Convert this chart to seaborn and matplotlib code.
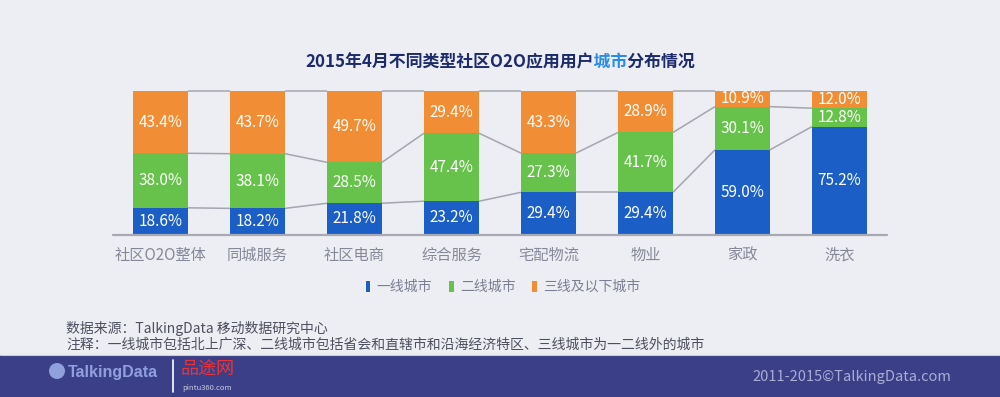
import matplotlib
matplotlib.use("Agg")
import matplotlib.pyplot as plt
from matplotlib.patches import Patch, Rectangle, Ellipse
from matplotlib.lines import Line2D
from matplotlib.transforms import Bbox, TransformedBbox
import numpy as np
import pandas as pd
import seaborn as sns

# ---------------- data ----------------
categories = ["社区O2O整体", "同城服务", "社区电商", "综合服务", "宅配物流", "物业", "家政", "洗衣"]
tier1 = [18.6, 18.2, 21.8, 23.2, 29.4, 29.4, 59.0, 75.2]
tier2 = [38.0, 38.1, 28.5, 47.4, 27.3, 41.7, 30.1, 12.8]
tier3 = [43.4, 43.7, 49.7, 29.4, 43.3, 28.9, 10.9, 12.0]
series_names = ["一线城市", "二线城市", "三线及以下城市"]

title_pre = "2015年4月不同类型社区O2O应用用户"
title_hl = "城市"
title_post = "分布情况"
note1 = "数据来源：TalkingData 移动数据研究中心"
note2 = "注释：一线城市包括北上广深、二线城市包括省会和直辖市和沿海经济特区、三线城市为一二线外的城市"
copyright_txt = "2011-2015©TalkingData.com"

# ---------------- style ----------------
sns.set_style("white")
plt.rcParams["font.family"] = ["Noto Sans CJK SC", "DejaVu Sans"]

bg = "#EDEEF3"
c_blue = "#1B5FC6"
c_green = "#66C24A"
c_orange = "#F08D35"
c_line = "#A4A5AF"

fig = plt.figure(figsize=(10, 3.97), dpi=100)
fig.patch.set_facecolor(bg)
ax = fig.add_axes([0.113, 0.4093, 0.774, 0.3615])
ax.set_facecolor(bg)

df = pd.DataFrame({"cat": categories, "t1": tier1, "t2": tier2, "t3": tier3})
df["c1"] = df["t1"]
df["c2"] = df["t1"] + df["t2"]
df["c3"] = df["t1"] + df["t2"] + df["t3"]

w = 0.567
for col, colr in [("c3", c_orange), ("c2", c_green), ("c1", c_blue)]:
    sns.barplot(data=df, x="cat", y=col, color=colr, saturation=1, width=w,
                linewidth=0, ax=ax, zorder=2, errorbar=None)

# connectors
n = len(categories)
for col in ["c1", "c2", "c3"]:
    lev = df[col].values
    for i in range(n - 1):
        ax.plot([i + w / 2, i + 1 - w / 2], [lev[i], lev[i + 1]], color=c_line,
                lw=1.1, zorder=1, solid_capstyle="butt", clip_on=False)

# value labels
for i in range(n):
    bottoms = [0, df["c1"][i], df["c2"][i]]
    vals = [df["t1"][i], df["t2"][i], df["t3"][i]]
    for b, v in zip(bottoms, vals):
        ax.text(i, b + v / 2, f"{v:.1f}%", ha="center", va="center",
                color="white", fontsize=11, zorder=5)

ax.axhline(0, color="#A8A9B3", lw=1.6, zorder=3, clip_on=False)
ax.set_xlim(-0.49, n - 1 + 0.49)
ax.set_ylim(0, 100)
sns.despine(ax=ax, left=True, bottom=True, top=True, right=True)
ax.set_yticks([])
ax.set_xlabel("")
ax.set_ylabel("")
ax.tick_params(axis="x", length=0, pad=9, labelsize=11, labelcolor="#868899")

# legend
handles = [Patch(facecolor=c, edgecolor="none") for c in (c_blue, c_green, c_orange)]
fig.legend(handles, series_names, loc="center", bbox_to_anchor=(0.503, 0.277), ncol=3,
           frameon=False, handlelength=0.35, handleheight=0.85, handletextpad=0.45,
           columnspacing=1.2, fontsize=10, labelcolor="#7B7F94")

# title (mixed colours): one string, coloured by clipping
fig.canvas.draw()
renderer = fig.canvas.get_renderer()
ty = (397 - 62) / 397
tkw = dict(fontsize=12.2, fontweight="bold", va="center")


def text_w(s):
    t = fig.text(0, 0, s, **tkw)
    wd = t.get_window_extent(renderer).width
    t.remove()
    return wd


full = title_pre + title_hl + title_post
w_full = text_w(full)
w_pre = text_w(title_pre)
w_hl = text_w(title_hl)
x0 = 500 - w_full / 2
L = x0 + w_pre
R = x0 + w_pre + w_hl
for (a, b), colr in [((0, L), "#1C2B6C"), ((L, R), "#2A8BE8"), ((R, 1000), "#1C2B6C")]:
    t = fig.text(x0 / 1000, ty, full, color=colr, **tkw)
    t.set_clip_box(TransformedBbox(Bbox.from_extents(a / 1000, 0, b / 1000, 1), fig.transFigure))
    t.set_clip_on(True)

# notes
fig.text(0.066, (397 - 328) / 397, note1, fontsize=10, color="#4E5060", va="center")
fig.text(0.066, (397 - 345) / 397, note2, fontsize=10, color="#4E5060", va="center")

# footer band
fig.patches.append(Rectangle((0, 0), 1, 42 / 397, transform=fig.transFigure,
                             facecolor="#3A3F87", edgecolor="none", zorder=0))
fig.add_artist(Line2D([0, 1], [42 / 397, 42 / 397], transform=fig.transFigure,
                      color="#C9CBDA", lw=0.8))
fig.patches.append(Ellipse((57 / 1000, (397 - 371) / 397), 16 / 1000, 16 / 397,
                           transform=fig.transFigure, facecolor="#8FA0DD", edgecolor="none"))
fig.text(0.068, (397 - 373) / 397, "TalkingData", fontsize=11.5, fontweight="bold",
         color="#8FA0DD", va="center", family=["Liberation Sans", "DejaVu Sans"])
fig.add_artist(Line2D([0.173, 0.173], [(397 - 360) / 397, (397 - 392) / 397],
                      transform=fig.transFigure, color="white", lw=1.2))
fig.text(0.181, (397 - 370) / 397, "品途网", fontsize=13, color="#E8343C", va="center")
fig.text(0.182, (397 - 388) / 397, "pintu360.com", fontsize=5.5, color="#C8CAE0", va="center")
fig.text(0.951, (397 - 377) / 397, copyright_txt, fontsize=10.5, color="#A9ADD5",
         va="center", ha="right")

fig.savefig("out.png", dpi=100, facecolor=bg)
